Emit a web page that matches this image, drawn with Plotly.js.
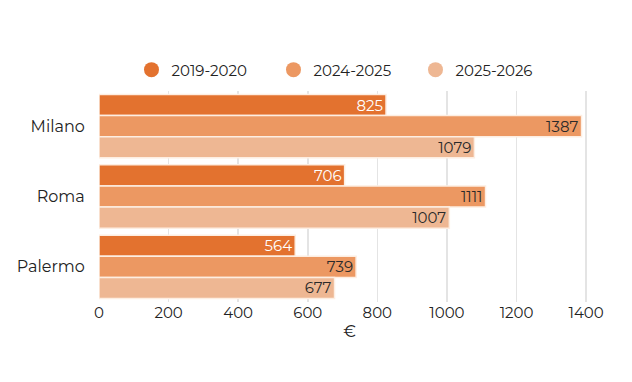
<!DOCTYPE html>
<html>
<head>
<meta charset="utf-8">
<script src="https://cdn.plot.ly/plotly-3.0.1.min.js"></script>
<style>html,body{margin:0;padding:0;background:#fff;}#chart{width:632px;height:382px;}</style>
</head>
<body>
<div id="chart"></div>
<script>
const cities = ["Milano", "Roma", "Palermo"];
const seriesNames = ["2019-2020", "2024-2025", "2025-2026"];
const values2019 = [825, 706, 564];
const values2024 = [1387, 1111, 739];
const values2025 = [1079, 1007, 677];
const tickValues = [0, 200, 400, 600, 800, 1000, 1200, 1400];

const colors = ["#E3722F", "#EC9862", "#EEB793"];
const textColors = ["#ffffff", "#2a2a2a", "#2a2a2a"];
const allValues = [values2019, values2024, values2025];
const fontFam = "Montserrat, 'Open Sans', sans-serif";

const traces = [];
allValues.forEach((vals, i) => {
  traces.push({
    type: "bar", orientation: "h", name: seriesNames[i],
    y: cities, x: vals, text: vals.map(String),
    textposition: "inside", insidetextanchor: "end", constraintext: "none",
    textfont: {color: textColors[i], size: 15, family: fontFam},
    marker: {color: colors[i], line: {color: "#fdeee2", width: 1.5}},
    showlegend: false, hoverinfo: "x"
  });
});
seriesNames.forEach((n, i) => {
  traces.push({
    type: "scatter", mode: "markers", name: n, x: [null], y: [null],
    marker: {symbol: "circle", size: 15, color: colors[i]},
    showlegend: true
  });
});

const layout = {
  width: 632, height: 382,
  margin: {l: 99, r: 32, t: 91, b: 80},
  paper_bgcolor: "#fff", plot_bgcolor: "#fff",
  font: {family: fontFam, size: 15, color: "#222"},
  barmode: "group", bargap: 0.1, bargroupgap: 0,
  xaxis: {
    range: [0, 1440], tickvals: tickValues, ticktext: tickValues.map(String),
    showgrid: true, gridcolor: "#e4e4e4", gridwidth: 1.5, zeroline: false,
    showline: false, ticks: "", tickfont: {size: 15, color: "#222"},
    title: {text: "€", font: {size: 16, color: "#222"}, standoff: 4}
  },
  yaxis: {
    autorange: "reversed", showgrid: false, zeroline: false, showline: false,
    ticks: "outside", ticklen: 10, tickcolor: "rgba(0,0,0,0)",
    tickfont: {size: 16, color: "#222"}
  },
  legend: {
    orientation: "h", x: 0.49, xanchor: "center", y: 1.1, yanchor: "middle",
    font: {size: 15, color: "#222"}, itemwidth: 30, tracegroupgap: 0,
    entrywidth: 97, entrywidthmode: "pixels"
  }
};

Plotly.newPlot("chart", traces, layout, {displayModeBar: false, staticPlot: true});
</script>
</body>
</html>
